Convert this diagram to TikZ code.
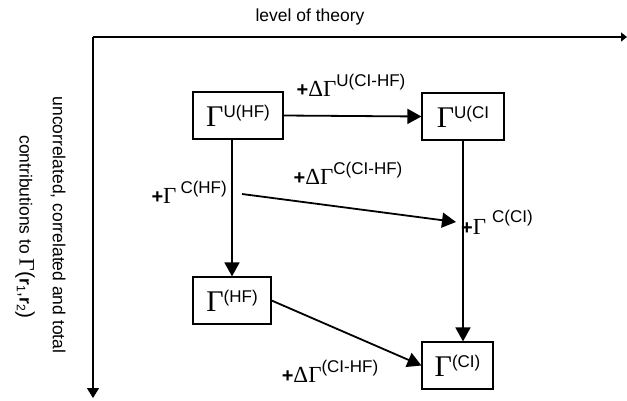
\documentclass[tikz,border=0pt]{standalone}
\usepackage{fontspec}
\setmainfont{Liberation Sans}
\newfontfamily\gfont{Liberation Serif}
\usetikzlibrary{arrows.meta, positioning}

% Gamma in the boxes and in the labels
\newcommand{\boxG}[1]{{\gfont\fontsize{30}{30}\selectfont Γ}\raisebox{9pt}{\fontsize{17}{17}\selectfont #1}}
\newcommand{\labG}[1]{{\gfont\fontsize{23}{23}\selectfont Γ}\raisebox{10pt}{\fontsize{17}{17}\selectfont #1}}
\newcommand{\labD}{{\gfont\fontsize{23}{23}\selectfont Δ}}
\newcommand{\plusb}{{\fontsize{20}{20}\selectfont\bfseries +}}

\begin{document}
\begin{tikzpicture}[x=1pt, y=-1pt,
    gbox/.style={draw, line width=1.2pt, minimum height=47pt, inner sep=0pt},
    flow/.style={line width=1.8pt, -{Triangle[length=14pt, width=15pt]}},
    axistext/.style={font=\fontsize{17.5}{20}\selectfont}]
    \useasboundingbox (0,0) rectangle (627,400);

    % Achsen
    \coordinate (o) at (93,37);
    \coordinate (xend) at (627,37);
    \coordinate (yend) at (93,398);
    \draw[line width=1.3pt, -{Triangle[length=6pt, width=9pt]}] (o) -- (xend);
    \draw[line width=1.3pt, -{Triangle[length=10pt, width=12pt]}] (o) -- (yend);
    \node[axistext] (lvl) at (310,17) {level of theory};
    \node[axistext, rotate=-90] (unc) at (58,225) {uncorrelated, correlated and total};
    \node[axistext, rotate=-90] (contr) at (25,227) {contributions to {\gfont\fontsize{22}{22}\selectfont Γ}{\fontsize{21}{21}\selectfont(}\textbf{r}\textsubscript{1},\textbf{r}\textsubscript{2}{\fontsize{21}{21}\selectfont)}};

    % Kaesten
    \node[gbox, minimum width=90pt] (uhf) at (238,115.5) {\boxG{U(HF)}};
    \node[gbox, minimum width=82pt] (uci) at (463,116.5) {\boxG{U(CI}};
    \node[gbox, minimum width=78pt] (hf) at (232,300.5) {\boxG{(HF)}};
    \node[gbox, minimum width=71pt] (ci) at (457.5,365.5) {\boxG{(CI)}};

    % Pfeile
    \draw[flow] (uhf.east) -- (uci.west);
    \draw[flow] (hf.north |- uhf.south) -- (hf.north);
    \draw[flow] (uci.south) -- (uci.south |- ci.north);
    \draw[flow] (hf.east) -- (ci.west);
    \coordinate (cstart) at (242,194);
    \coordinate (cend) at (456,222);
    \draw[flow] (cstart) -- (cend);

    % Beschriftungen
    \node (dUCH) at (351,85) {\plusb\labD\labG{U(CI-HF)}};
    \node (dCCH) at (348,173) {\plusb\labD\labG{C(CI-HF)}};
    \node[anchor=east, inner sep=2pt] (gCHF) at (229,192) {\plusb{\gfont\fontsize{23}{23}\selectfont Γ}\hspace{4pt}\raisebox{10pt}{\fontsize{17}{17}\selectfont C(HF)}};
    \node[anchor=west, inner sep=0pt] (gCCI) at (461,222) {\plusb{\gfont\fontsize{23}{23}\selectfont Γ}\hspace{6pt}\raisebox{12pt}{\fontsize{17}{17}\selectfont C(CI)}};
    \node (dCH) at (330,371) {\plusb\labD\labG{(CI-HF)}};
\end{tikzpicture}
\end{document}
